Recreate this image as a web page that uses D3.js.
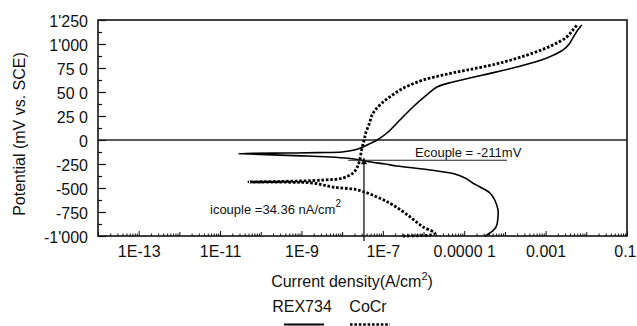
<!DOCTYPE html>
<html>
<head>
<meta charset="utf-8">
<script src="https://cdn.jsdelivr.net/npm/d3@7/dist/d3.min.js"></script>
<style>
  html, body { margin: 0; padding: 0; background: #fff; }
  svg { display: block; font-family: "Liberation Sans", Arial, sans-serif; }
</style>
</head>
<body>
<svg id="chart" width="637" height="326"></svg>
<script>
// Potentiodynamic polarisation curves: potential (mV vs. SCE) against current density (A/cm²)

// REX734 scan, from -1000 mV upward
const rexPotential = [-1000, -969, -930, -885, -800, -729, -625, -552, -490, -448, -396, -354, -312, -271, -250, -230, -211,
  -190, -175, -165, -155, -145, -142, -138, -136, -132, -125, -105, -73, -35, 0, 73, 208, 344, 469, 552, 604, 677,
  760, 854, 938, 1000, 1063, 1146, 1198];
const rexCurrent = [3.24e-5, 4.27e-5, 5.5e-5, 6.31e-5, 6.76e-5, 6.76e-5, 5.62e-5, 4.27e-5, 2.45e-5, 1.62e-5, 1.05e-5, 5.89e-6, 1.45e-6, 2.24e-7, 1.12e-7, 5.01e-8, 3.02e-8,
  1.41e-8, 3.98e-9, 1.0e-9, 2.0e-10, 5.0e-11, 2.9e-11, 6.3e-11, 4.0e-10, 2.5e-9, 1.0e-8, 2.0e-8, 3.24e-8, 5.0e-8, 7.24e-8, 1.26e-7, 2.63e-7, 5.5e-7, 1.2e-6, 2.14e-6, 5.25e-6, 2.88e-5,
  1.95e-4, 1.07e-3, 2.69e-3, 3.8e-3, 4.68e-3, 6.17e-3, 7.76e-3];

// CoCr scan, from -1000 mV upward
const cocrPotential = [-1000, -998, -990, -969, -906, -802, -677, -594, -521, -490, -448, -440, -437, -432, -417, -396, -344, -290, -211,
  -104, 0, 73, 177, 260, 312, 385, 448, 521, 573, 625, 677, 729, 802, 906, 990, 1073, 1146, 1208];
const cocrCurrent = [3.09e-7, 7.2e-7, 1.45e-6, 1.9e-6, 9.8e-7, 4.7e-7, 1.78e-7, 7.2e-8, 2.45e-8, 5.9e-9, 1.9e-9, 5.2e-10, 5.1e-11, 2.95e-10, 3.4e-9, 1.05e-8, 1.86e-8, 2.3e-8, 2.7e-8,
  3.0e-8, 3.47e-8, 3.8e-8, 4.7e-8, 5.4e-8, 6.5e-8, 9.5e-8, 1.48e-7, 2.63e-7, 4.7e-7, 9.8e-7, 3.0e-6, 1.17e-5, 7.6e-5, 4.9e-4, 1.51e-3, 3.3e-3, 4.68e-3, 6.17e-3];

// Galvanic couple
const eCouple = -211;          // mV
const iCouple = 34.36e-9;      // A/cm²
const eCoupleLineSpan = [1.4e-8, 1.12e-4];

// Axis ticks and labels
const potentialTicks = [-1000, -750, -500, -250, 0, 250, 500, 750, 1000, 1250];
const potentialTickLabels = ["-1'000", "-750", "-500", "-250", "0", "25 0", "50 0", "75 0", "1'000", "1'250"];
const currentLabelTicks = [1e-13, 1e-11, 1e-9, 1e-7, 1e-5, 1e-3, 1e-1];
const currentTickLabels = ["1E-13", "1E-11", "1E-9", "1E-7", "0.0000 1", "0.001", "0.1"];
const seriesNames = ["REX734", "CoCr"];

const svg = d3.select("#chart");
const plotLeft = 98, plotRight = 627, plotTop = 20, plotBottom = 236;

const x = d3.scaleLog().domain([1e-14, 1e-1]).range([plotLeft, plotRight]);
const y = d3.scaleLinear().domain([-1000, 1250]).range([plotBottom, plotTop]);

// Minor/major tick sets
const decades = d3.range(-14, 0).map(e => Math.pow(10, e));
const minorX = [];
decades.forEach(d => { for (let k = 2; k <= 9; k++) minorX.push(d * k); });
const unlabeledDecades = decades.filter(d => !currentLabelTicks.some(t => Math.abs(Math.log10(t) - Math.log10(d)) < 1e-6));
const minorY = d3.range(-875, 1250, 250);

// Bottom axis: minor ticks, unlabeled decades, labeled decades (all pointing inward)
const gx = svg.append("g").attr("transform", `translate(0,${plotBottom})`);
gx.append("g").call(d3.axisBottom(x).tickValues(minorX).tickSize(-2.5).tickFormat(""));
gx.append("g").call(d3.axisBottom(x).tickValues(unlabeledDecades).tickSize(-4).tickFormat(""));
gx.append("g").call(d3.axisBottom(x).tickValues(currentLabelTicks).tickSize(-5).tickPadding(10)
  .tickFormat((d, i) => currentTickLabels[i]));
gx.selectAll(".domain").remove();
gx.selectAll("line").attr("stroke", "#111").attr("stroke-width", 1);
gx.selectAll("text").attr("font-size", 16).attr("fill", "#111")
  .attr("font-family", "'Liberation Sans', Arial, sans-serif");
// keep the last label inside the page edge
gx.selectAll("text").filter((d, i, n) => d === 1e-1).attr("text-anchor", "end").attr("x", 9);

// Left axis
const gy = svg.append("g").attr("transform", `translate(${plotLeft},0)`);
gy.append("g").call(d3.axisLeft(y).tickValues(minorY).tickSize(-4).tickFormat(""));
gy.append("g").call(d3.axisLeft(y).tickValues(potentialTicks).tickSize(-8).tickPadding(10)
  .tickFormat((d, i) => potentialTickLabels[i]));
gy.selectAll(".domain").remove();
gy.selectAll("line").attr("stroke", "#111").attr("stroke-width", 1.2);
gy.selectAll("text").attr("font-size", 16).attr("fill", "#111").attr("dy", "0.4em")
  .attr("font-family", "'Liberation Sans', Arial, sans-serif");

// Zero-potential reference line
svg.append("line")
  .attr("x1", plotLeft).attr("x2", plotRight).attr("y1", y(0)).attr("y2", y(0))
  .attr("stroke", "#222").attr("stroke-width", 1.3);

// Curves
const line = d3.line().x(d => x(d[0])).y(d => y(d[1])).curve(d3.curveCatmullRom.alpha(0.5));
const rexData = rexCurrent.map((c, i) => [c, rexPotential[i]]);
const cocrData = cocrCurrent.map((c, i) => [c, cocrPotential[i]]);

const plot = svg.append("g");
plot.append("path").datum(rexData).attr("d", line)
  .attr("fill", "none").attr("stroke", "#000").attr("stroke-width", 1.6).attr("stroke-linejoin", "round");
plot.append("path").datum(cocrData).attr("d", line)
  .attr("fill", "none").attr("stroke", "#000").attr("stroke-width", 2.8).attr("stroke-dasharray", "2.6,1.8");

// Couple markers
const cx = x(iCouple), cy = y(eCouple);
svg.append("line")
  .attr("x1", x(eCoupleLineSpan[0])).attr("x2", x(eCoupleLineSpan[1]))
  .attr("y1", cy).attr("y2", cy)
  .attr("stroke", "#222").attr("stroke-width", 1.2);
svg.append("line")
  .attr("x1", cx).attr("x2", cx).attr("y1", cy).attr("y2", plotBottom + 5)
  .attr("stroke", "#111").attr("stroke-width", 1.3);
svg.append("path")
  .attr("d", `M${cx},${cy - 3} L${cx - 3},${cy + 4} L${cx + 3},${cy + 4} Z`)
  .attr("fill", "#111");

svg.append("text")
  .attr("x", 415).attr("y", cy - 3)
  .attr("font-size", 13).attr("fill", "#111")
  .text(`Ecouple = ${eCouple}mV`);

const icText = svg.append("text")
  .attr("x", 210).attr("y", 214)
  .attr("font-size", 13).attr("fill", "#111");
icText.append("tspan").text(`icouple =${(iCouple * 1e9).toFixed(2)} nA/cm`);
icText.append("tspan").attr("dy", -7).attr("font-size", 10).text("2");

// Frame
svg.append("rect")
  .attr("x", plotLeft).attr("y", plotTop).attr("width", plotRight - plotLeft).attr("height", plotBottom - plotTop)
  .attr("fill", "none").attr("stroke", "#111").attr("stroke-width", 1.6);

// Axis titles
const xt = svg.append("text")
  .attr("x", 352).attr("y", 287).attr("text-anchor", "middle")
  .attr("font-size", 16).attr("fill", "#111");
xt.append("tspan").text("Current density(A/cm");
xt.append("tspan").attr("dy", -7).attr("font-size", 11).text("2");
xt.append("tspan").attr("dy", 7).text(")");

svg.append("text")
  .attr("transform", "translate(25,134) rotate(-90)")
  .attr("text-anchor", "middle").attr("font-size", 16).attr("fill", "#111")
  .text("Potential (mV vs. SCE)");

// Legend
const legend = svg.append("g");
const legendX = [302, 368];
seriesNames.forEach((name, i) => {
  legend.append("text")
    .attr("x", legendX[i]).attr("y", 312).attr("text-anchor", "middle")
    .attr("font-size", 16).attr("fill", "#111").text(name);
  const sample = legend.append("line")
    .attr("x1", legendX[i] - 18).attr("x2", legendX[i] + 22)
    .attr("y1", 324.5).attr("y2", 324.5).attr("stroke", "#000");
  if (i === 0) sample.attr("stroke-width", 2);
  else sample.attr("stroke-width", 2.6).attr("stroke-dasharray", "2.6,1.8");
});
</script>
</body>
</html>
